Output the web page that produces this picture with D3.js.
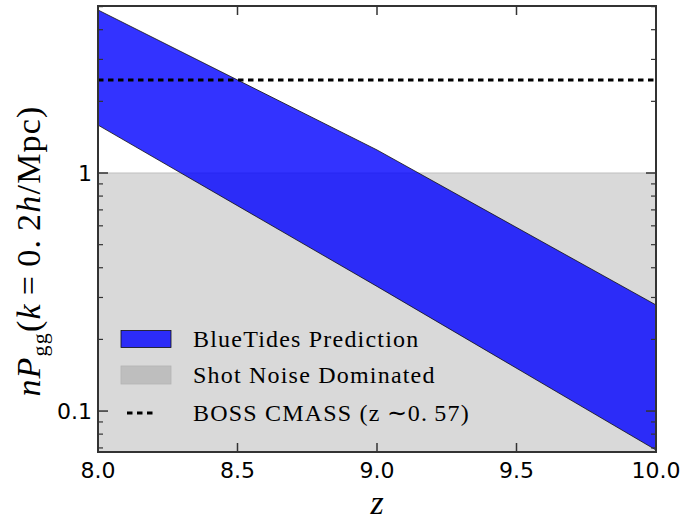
<!DOCTYPE html>
<html>
<head>
<meta charset="utf-8">
<script src="https://cdnjs.cloudflare.com/ajax/libs/d3/7.8.5/d3.min.js"></script>
<style>
  body { margin: 0; background: #fff; }
  svg { display: block; }
</style>
</head>
<body>
<div id="chart"></div>
<script>
// values
var zValues = [8.0, 9.0, 10.0];
var upperValues = [4.84, 1.25, 0.279];
var lowerValues = [1.59, 0.334, 0.0686];
var bossLevel = 2.46;
var shotNoiseLevel = 1;
var xTicks = [8.0, 8.5, 9.0, 9.5, 10.0];
var yMajorTicks = [0.1, 1];
var yMinorTicks = [0.07, 0.08, 0.09, 0.2, 0.3, 0.4, 0.5, 0.6, 0.7, 0.8, 0.9, 2, 3, 4, 5];
var legendLabels = ["BlueTides Prediction", "Shot Noise Dominated", "BOSS CMASS (z\u2009\u223C0.\u200957)"];

var width = 691, height = 527;
var margin = {left: 98, top: 6, right: 35, bottom: 75};
var x0 = margin.left, x1 = width - margin.right;
var y0 = height - margin.bottom, y1 = margin.top;

var svg = d3.select("#chart")
  .append("svg")
  .attr("width", width)
  .attr("height", height);

var x = d3.scaleLinear().domain([8, 10]).range([x0, x1]);
var y = d3.scaleLog().domain([0.0673, 5.03]).range([y0, y1]);

var plot = svg.append("g");

// shot noise region
plot.append("rect")
  .attr("x", x(8))
  .attr("y", y(shotNoiseLevel))
  .attr("width", x(10) - x(8))
  .attr("height", y0 - y(shotNoiseLevel))
  .attr("fill", "rgb(217,217,217)");
plot.append("line")
  .attr("x1", x(8)).attr("x2", x(10))
  .attr("y1", y(shotNoiseLevel)).attr("y2", y(shotNoiseLevel))
  .attr("stroke", "#bfbfbf")
  .attr("stroke-width", 1);

// prediction band
var band = zValues.map(function (z, i) {
  return {z: z, lo: lowerValues[i], hi: upperValues[i]};
});
var area = d3.area()
  .x(function (d) { return x(d.z); })
  .y0(function (d) { return y(d.lo); })
  .y1(function (d) { return y(d.hi); });

plot.append("path")
  .datum(band)
  .attr("d", area)
  .attr("fill", "blue")
  .attr("fill-opacity", 0.8)
  .attr("stroke", "#111")
  .attr("stroke-width", 0.8);

// BOSS CMASS level
plot.append("line")
  .attr("x1", x(8)).attr("x2", x(10))
  .attr("y1", y(bossLevel)).attr("y2", y(bossLevel))
  .attr("stroke", "black")
  .attr("stroke-width", 3)
  .attr("stroke-dasharray", "5.5,4.5");

// axes frame and ticks
var axisColor = "#333";
var axes = svg.append("g");

axes.append("rect")
  .attr("x", x0).attr("y", y1)
  .attr("width", x1 - x0).attr("height", y0 - y1)
  .attr("fill", "none")
  .attr("stroke", axisColor)
  .attr("stroke-width", 2);

xTicks.forEach(function (t) {
  axes.append("line")
    .attr("x1", x(t)).attr("x2", x(t))
    .attr("y1", y0).attr("y2", y0 - 9)
    .attr("stroke", axisColor).attr("stroke-width", 1.5);
  axes.append("line")
    .attr("x1", x(t)).attr("x2", x(t))
    .attr("y1", y1).attr("y2", y1 + 9)
    .attr("stroke", axisColor).attr("stroke-width", 1.5);
  axes.append("text")
    .attr("x", x(t))
    .attr("y", y0 + 26)
    .attr("text-anchor", "middle")
    .attr("font-family", "DejaVu Sans")
    .attr("font-size", 22)
    .text(d3.format(".1f")(t));
});

yMajorTicks.forEach(function (t) {
  axes.append("line")
    .attr("x1", x0).attr("x2", x0 + 10)
    .attr("y1", y(t)).attr("y2", y(t))
    .attr("stroke", axisColor).attr("stroke-width", 1.5);
  axes.append("line")
    .attr("x1", x1).attr("x2", x1 - 10)
    .attr("y1", y(t)).attr("y2", y(t))
    .attr("stroke", axisColor).attr("stroke-width", 1.5);
  axes.append("text")
    .attr("x", x0 - 6)
    .attr("y", y(t))
    .attr("dy", "0.36em")
    .attr("text-anchor", "end")
    .attr("font-family", "DejaVu Sans")
    .attr("font-size", 22)
    .text(t);
});

yMinorTicks.forEach(function (t) {
  axes.append("line")
    .attr("x1", x0).attr("x2", x0 + 5)
    .attr("y1", y(t)).attr("y2", y(t))
    .attr("stroke", axisColor).attr("stroke-width", 1.2);
  axes.append("line")
    .attr("x1", x1).attr("x2", x1 - 5)
    .attr("y1", y(t)).attr("y2", y(t))
    .attr("stroke", axisColor).attr("stroke-width", 1.2);
});

// axis labels
svg.append("text")
  .attr("x", (x0 + x1) / 2)
  .attr("y", 514)
  .attr("text-anchor", "middle")
  .attr("font-family", "Liberation Serif")
  .attr("font-style", "italic")
  .attr("font-size", 34)
  .text("z");

var ylab = svg.append("text")
  .attr("transform", "translate(40,251) rotate(-90)")
  .attr("text-anchor", "middle")
  .attr("font-family", "Liberation Serif")
  .attr("font-size", 34)
  .attr("letter-spacing", 1.2);
ylab.append("tspan").attr("font-style", "italic").text("nP");
ylab.append("tspan").attr("font-size", 22).attr("dy", 7).text("gg");
ylab.append("tspan").attr("dy", -7).text("(");
ylab.append("tspan").attr("font-style", "italic").text("k");
ylab.append("tspan").text("\u2009=\u20090.\u20092");
ylab.append("tspan").attr("font-style", "italic").text("h");
ylab.append("tspan").text("/Mpc)");

// legend
var legend = svg.append("g").attr("transform", "translate(121,0)");
var rowY = [339, 375, 413];

legend.append("rect")
  .attr("x", 0).attr("y", rowY[0] - 8.5)
  .attr("width", 50).attr("height", 17)
  .attr("fill", "blue").attr("fill-opacity", 0.8)
  .attr("stroke", "#111").attr("stroke-width", 0.8);
legend.append("rect")
  .attr("x", 0).attr("y", rowY[1] - 9)
  .attr("width", 50).attr("height", 18)
  .attr("fill", "rgb(190,190,190)")
  .attr("stroke", "#b3b3b3").attr("stroke-width", 0.8);
legend.append("line")
  .attr("x1", 6).attr("x2", 33)
  .attr("y1", rowY[2]).attr("y2", rowY[2])
  .attr("stroke", "black")
  .attr("stroke-width", 3)
  .attr("stroke-dasharray", "5.5,4.5");

legendLabels.forEach(function (label, i) {
  legend.append("text")
    .attr("x", 72)
    .attr("y", rowY[i])
    .attr("dy", "0.33em")
    .attr("font-family", "Liberation Serif")
    .attr("font-size", 24)
    .attr("letter-spacing", 1.2)
    .text(label);
});
</script>
</body>
</html>
